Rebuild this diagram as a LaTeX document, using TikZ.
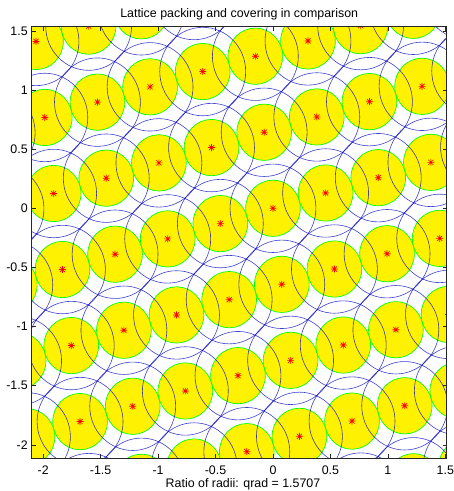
\documentclass[tikz,border=0pt]{standalone}
\usepackage{fontspec}
\setmainfont{Liberation Sans}
\tikzset{
  disk/.style={fill=yellow,draw=green,line width=0.5pt},
  cover/.style={draw=blue!75!black,line width=0.45pt,draw opacity=0.75},
  centremark/.style={draw=red,line width=0.5pt},
  axisbox/.style={draw=black!85,line width=0.5pt},
  plotlabel/.style={font=\fontsize{9.3pt}{11pt}\selectfont,inner sep=0pt},
}
\begin{document}
\begin{tikzpicture}[x=86.175pt,y=88.725pt]
\def\pax{0.4581}\def\pay{0.1294}
\def\pbx{0.0767}\def\pby{-0.6427}
\def\rpack{0.2380}\def\rcov{0.3738}
\useasboundingbox (-2.3759,-2.3898) rectangle (1.5754,1.7607);
\begin{scope}
\clip (-2.1,-2.113) rectangle (1.512,1.535);
% packing disks
\foreach \m in {-6,...,5}
  \foreach \n in {-4,...,5}
    \path[disk] ({\m*\pax+\n*\pbx},{\m*\pay+\n*\pby}) circle[radius=\rpack];
% covering circles
\foreach \m in {-6,...,5}
  \foreach \n in {-4,...,5}
    \path[cover] ({\m*\pax+\n*\pbx},{\m*\pay+\n*\pby}) circle[radius=\rcov];
% lattice points
\foreach \m in {-6,...,5}
  \foreach \n in {-4,...,5}
    \draw[centremark] ({\m*\pax+\n*\pbx},{\m*\pay+\n*\pby})
      +(-2.6pt,0) -- +(2.6pt,0) +(0,-2.6pt) -- +(0,2.6pt)
      +(-1.9pt,-1.9pt) -- +(1.9pt,1.9pt) +(-1.9pt,1.9pt) -- +(1.9pt,-1.9pt);
\end{scope}
% axes box and ticks
\draw[axisbox] (-2.1,-2.113) rectangle (1.512,1.535);
\foreach \tv in {-2,-1.5,-1,-0.5,0,0.5,1,1.5}{
  \draw[axisbox] (\tv,-2.113) -- ++(0,0.034) (\tv,1.535) -- ++(0,-0.034);
  \draw[axisbox] (-2.1,\tv) -- ++(0.035,0) (1.512,\tv) -- ++(-0.035,0);
  \node[plotlabel,anchor=base] (xt\tv) at (\tv,-2.2503) {\tv};
  \node[plotlabel,anchor=east] (yt\tv) at (-2.1322,\tv) {\tv};
}
\node[plotlabel,anchor=base] (title) at (-0.294,1.6145) {Lattice packing and covering in comparison};
\node[plotlabel,anchor=base] (xlab) at (-0.261,-2.3602) {Ratio of radii: qrad = 1.5707};
\end{tikzpicture}
\end{document}
